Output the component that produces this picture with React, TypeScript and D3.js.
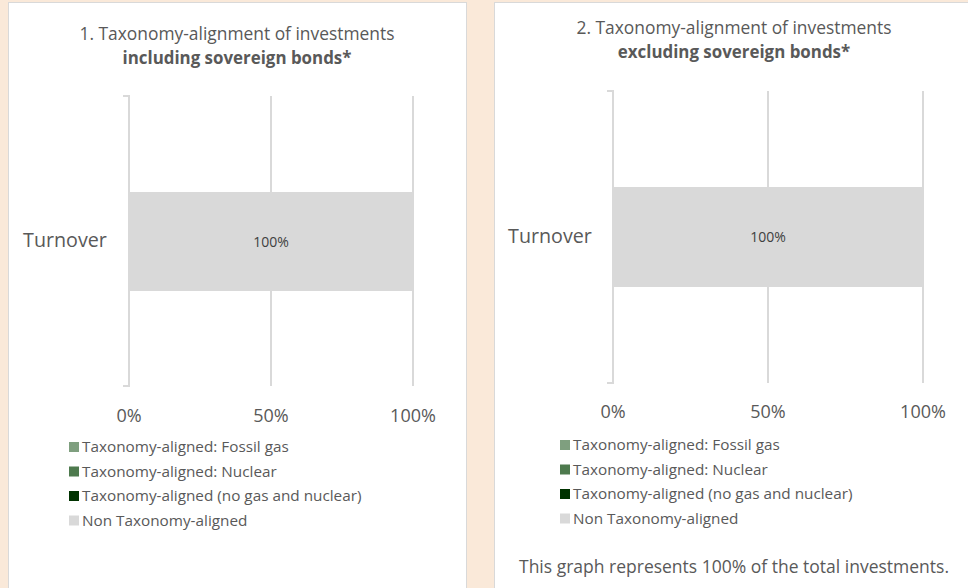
import React from 'react';
import * as d3 from 'd3';

// chart data
const categories = ['Turnover'];
const seriesNames = [
  'Taxonomy-aligned: Fossil gas',
  'Taxonomy-aligned: Nuclear',
  'Taxonomy-aligned (no gas and nuclear)',
  'Non Taxonomy-aligned',
];
const seriesColors = ['#7f9f7f', '#4e7a4e', '#003300', '#d9d9d9'];
const incSovereign = [0, 0, 0, 100];
const excSovereign = [0, 0, 0, 100];
const xTicks = [0, 50, 100];
const titles = [
  ['1. Taxonomy-alignment of investments', 'including sovereign bonds*'],
  ['2. Taxonomy-alignment of investments', 'excluding sovereign bonds*'],
];
const footnote = 'This graph represents 100% of the total investments.';

const FONT = '"Open Sans", Lato, sans-serif';
const TEXT = '#595959';

interface PanelProps {
  box: [number, number, number, number];
  plot: { x0: number; x1: number; y0: number; y1: number };
  bar: [number, number];
  values: number[];
  title: string[];
  titleY: number;
  tickY: number;
  labelX: number;
  legendX: number;
  legendY: number;
  note?: string;
}

const Panel: React.FC<PanelProps> = ({ box, plot, bar, values, title, titleY, tickY, labelX, legendX, legendY, note }) => {
  const x = d3.scaleLinear().domain([0, 100]).range([plot.x0, plot.x1]);
  const y = d3.scaleBand().domain(categories).range([plot.y0, plot.y1]);
  const cx = (box[0] + box[0] + box[2]) / 2;
  const cat = categories[0];
  const yc = (y(cat) ?? 0) + y.bandwidth() / 2;

  // stacked segments
  let acc = 0;
  const segs = values.map((v, i) => {
    const s = { x0: acc, x1: acc + v, color: seriesColors[i], v };
    acc += v;
    return s;
  });

  return (
    <g>
      <rect x={box[0] + 0.5} y={box[1] + 0.5} width={box[2]} height={box[3]} fill="#fff" stroke="#d9d9d9" />
      <text x={cx} y={titleY} textAnchor="middle" fontSize={17.4} fill={TEXT}>{title[0]}</text>
      <text x={cx} y={titleY + 24} textAnchor="middle" fontSize={16.9} fontWeight="bold" fill={TEXT}>{title[1]}</text>

      {xTicks.slice(1).map(t => (
        <line key={t} x1={x(t)} x2={x(t)} y1={plot.y0} y2={plot.y1} stroke="#d9d9d9" strokeWidth={2} />
      ))}

      {segs.filter(s => s.v > 0).map((s, i) => (
        <rect key={i} x={x(s.x0)} width={x(s.x1) - x(s.x0)} y={bar[0]} height={bar[1] - bar[0]} fill={s.color} />
      ))}
      {segs.filter(s => s.v > 0).map((s, i) => (
        <text key={'l' + i} x={(x(s.x0) + x(s.x1)) / 2} y={(bar[0] + bar[1]) / 2 + 5} textAnchor="middle" fontSize={14} fill="#404040">
          {s.v}%
        </text>
      ))}

      {/* category axis bracket */}
      <path d={`M${plot.x0 - 6},${plot.y0}H${plot.x0}V${plot.y1}H${plot.x0 - 6}`} fill="none" stroke="#d9d9d9" strokeWidth={2} />
      <text x={labelX} y={yc + 6} textAnchor="middle" fontSize={19.7} fill={TEXT}>{cat}</text>

      {xTicks.map(t => (
        <text key={'t' + t} x={x(t)} y={tickY} textAnchor="middle" fontSize={18} fill={TEXT}>{t}%</text>
      ))}

      {seriesNames.map((n, i) => (
        <g key={n} transform={`translate(${legendX},${legendY + i * 24.5})`}>
          <rect x={0} y={-5} width={10} height={10} fill={seriesColors[i]} />
          <text x={13} y={5} fontSize={15.3} fill={TEXT}>{n}</text>
        </g>
      ))}

      {note && (
        <text x={cx} y={573} textAnchor="middle" fontSize={17.5} fill={TEXT}>{note}</text>
      )}
    </g>
  );
};

export default function App() {
  return (
    <div style={{ position: 'fixed', left: 0, top: 0 }}>
      <svg width={968} height={588} style={{ display: 'block', fontFamily: FONT }}>
        <rect width={968} height={588} fill="#fae9d9" />
        <Panel
          box={[8, 2, 458, 600]}
          plot={{ x0: 129, x1: 413, y0: 96, y1: 386 }}
          bar={[192, 291]}
          values={incSovereign}
          title={titles[0]}
          titleY={40}
          tickY={422}
          labelX={65}
          legendX={69}
          legendY={447}
        />
        <Panel
          box={[494, 2, 480, 600]}
          plot={{ x0: 613, x1: 923, y0: 91, y1: 383 }}
          bar={[187, 287]}
          values={excSovereign}
          title={titles[1]}
          titleY={34}
          tickY={418}
          labelX={550}
          legendX={560}
          legendY={445}
          note={footnote}
        />
      </svg>
    </div>
  );
}
